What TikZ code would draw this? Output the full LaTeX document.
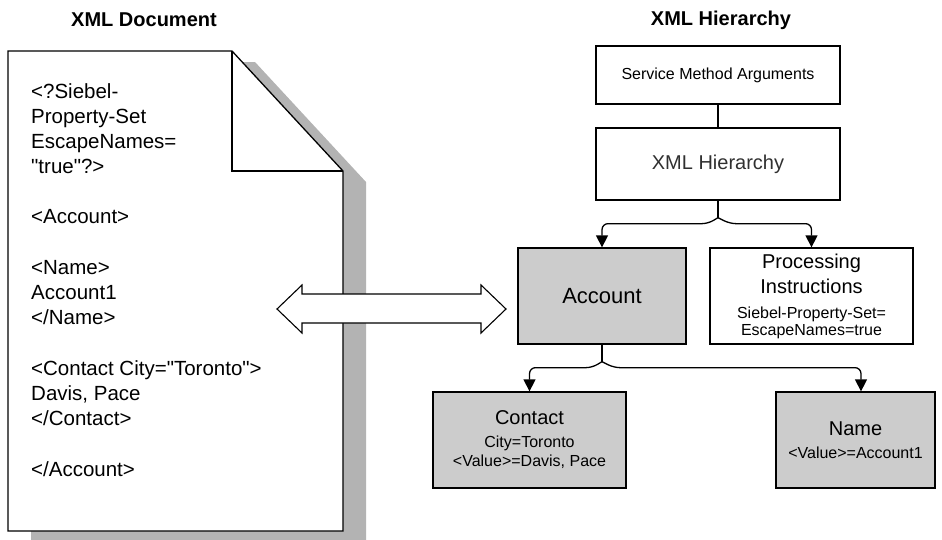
\documentclass[tikz,border=0pt]{standalone}
\usepackage{fontspec}
\setmainfont{Liberation Sans}
\usetikzlibrary{arrows.meta,calc}
\definecolor{boxgray}{HTML}{CCCCCC}
\definecolor{shadowgray}{HTML}{B3B3B3}
\definecolor{hiertext}{HTML}{303030}
\tikzset{
  pageline/.style={draw=black, line width=1.3pt, line join=miter},
  box/.style={draw=black, line width=1.3pt, inner sep=0pt, align=center},
  conn/.style={draw=black, line width=1.3pt, rounded corners=6pt, -{Triangle[length=12pt,width=12pt]}},
  plain/.style={draw=black, line width=1.3pt},
  title/.style={font=\fontsize{20}{23}\selectfont\bfseries, inner sep=0pt},
  doctext/.style={font=\fontsize{20.5}{25}\selectfont, anchor=base west, inner sep=0pt},
  big/.style={font=\fontsize{20}{25}\selectfont},
}
\newcommand{\smalltxt}{\fontsize{16}{18}\selectfont}
\begin{document}
\begin{tikzpicture}[x=1pt,y=-1pt]
\useasboundingbox (0,0) rectangle (942,539);
% titles
\node[title] (t1) at (144,20) {XML Document};
\node[title] (t2) at (721,20) {XML Hierarchy};
% page shadow
\fill[shadowgray] (31,62) -- (255,62) -- (366,182) -- (366,545) -- (31,545) -- cycle;
% page
\path[pageline, fill=white] (8,51) -- (232,51) -- (343,171) -- (343,531) -- (8,531) -- cycle;
\draw[pageline] (232,51) -- (232,171) -- (343,171);
% page text
\node[doctext] (d1) at (31,98) {<?Siebel-};
\node[doctext] (d2) at (31,123) {Property-Set};
\node[doctext] (d3) at (31,148) {EscapeNames=};
\node[doctext] (d4) at (31,173) {\textquotedbl true\textquotedbl ?>};
\node[doctext] (d5) at (31,223) {<Account>};
\node[doctext] (d6) at (31,274) {<Name>};
\node[doctext] (d7) at (31,299) {Account1};
\node[doctext] (d8) at (31,324) {</Name>};
\node[doctext] (d9) at (31,375) {<Contact City=\textquotedbl Toronto\textquotedbl >};
\node[doctext] (d10) at (31,400) {Davis, Pace};
\node[doctext] (d11) at (31,425) {</Contact>};
\node[doctext] (d12) at (31,476) {</Account>};
% double arrow
\path[plain, fill=white, line width=1.1pt] (277,309) -- (302,285) -- (302,294) -- (481,294) -- (481,285) -- (506,309)
  -- (481,333) -- (481,323) -- (302,323) -- (302,333) -- cycle;
% hierarchy boxes
\node[box, minimum width=244pt, minimum height=58pt, font=\smalltxt] (sma) at (718,75) {Service Method Arguments};
\node[box, minimum width=244pt, minimum height=72pt, big, text=hiertext] (xh) at (718,164) {XML Hierarchy};
\node[box, fill=boxgray, minimum width=168pt, minimum height=96pt, font=\fontsize{22}{26}\selectfont] (acc) at (602,296) {Account};
\node[box, minimum width=203pt, minimum height=96pt, big] (pi) at (811.5,296)
  {Processing\\Instructions\\{\smalltxt Siebel-Property-Set=}\\[-8pt]{\smalltxt EscapeNames=true}};
\node[box, fill=boxgray, minimum width=193pt, minimum height=96pt, big] (con) at (529.5,440)
  {Contact\\[-2pt]{\smalltxt City=Toronto}\\[-6pt]{\smalltxt <Value>=Davis, Pace}};
\node[box, fill=boxgray, minimum width=159pt, minimum height=96pt, big] (nm) at (855.5,440)
  {Name\\[-2pt]{\smalltxt <Value>=Account1}};
% connectors
\draw[plain] (sma.south) -- (xh.north);
\draw[plain] (xh.south) -- ++(0,17) coordinate (j1);
\draw[conn] (j1) -- ++(-10,6) -| (acc.north);
\draw[conn] (j1) -- ++(12,6) -| (pi.north);
\draw[plain] (acc.south) -- ++(0,17) coordinate (j2);
\draw[conn] (j2) -- ++(-10,6) -| (con.north);
\draw[conn] (j2) -- ++(12,6) -| ([xshift=5.5pt]nm.north);
\end{tikzpicture}
\end{document}
